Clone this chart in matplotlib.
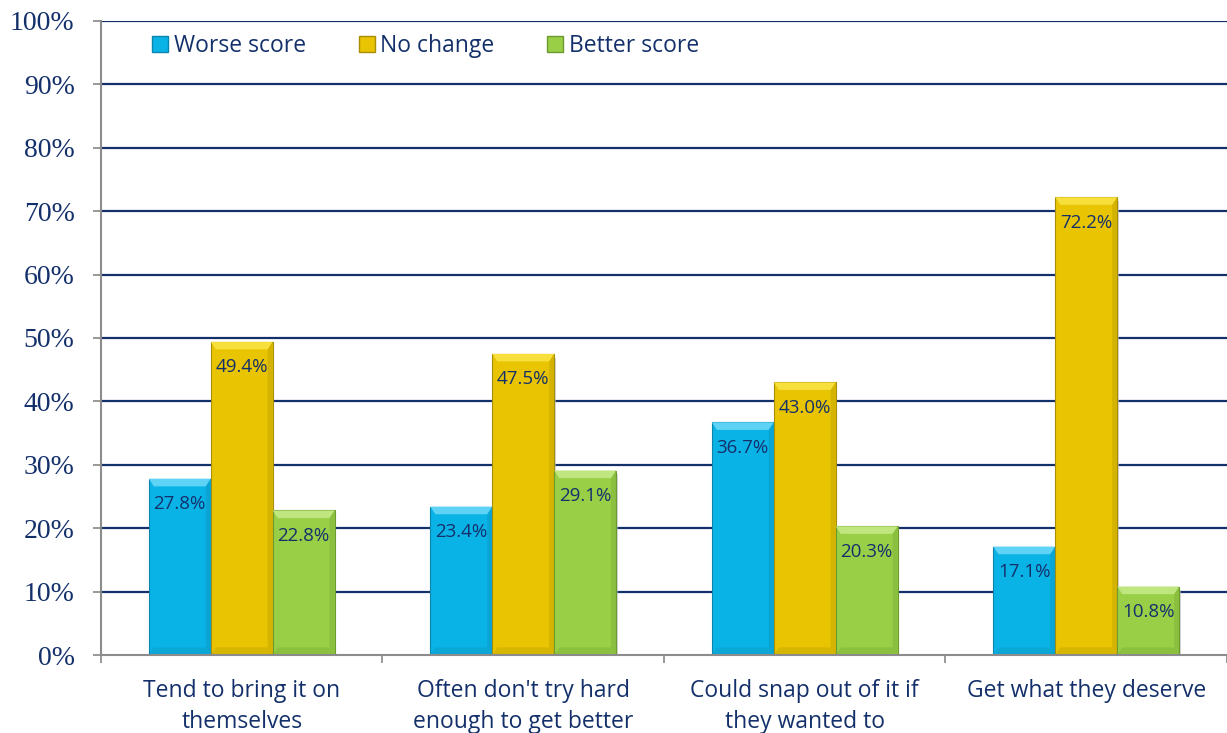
import matplotlib
matplotlib.use("Agg")
import matplotlib.pyplot as plt
import numpy as np
from matplotlib.patches import Rectangle, Polygon
from matplotlib.lines import Line2D

categories = ["Tend to bring it on\nthemselves",
              "Often don't try hard\nenough to get better",
              "Could snap out of it if\nthey wanted to",
              "Get what they deserve"]
series_names = ["Worse score", "No change", "Better score"]
worse = [27.8, 23.4, 36.7, 17.1]
nochange = [49.4, 47.5, 43.0, 72.2]
better = [22.8, 29.1, 20.3, 10.8]
yticks = [0, 10, 20, 30, 40, 50, 60, 70, 80, 90, 100]

colors = ["#0AB3E6", "#E8C402", "#98CF47"]
dark = ["#0A86AE", "#A88E05", "#6C9A2E"]
light = ["#5FD3F5", "#F7DF3C", "#C0E67F"]
navy = "#14306B"

fig = plt.figure(figsize=(12.27, 7.33), dpi=100)
ax = fig.add_axes([0.0823, 0.1064, 0.9177, 0.865])
ax.set_xlim(0, 4)
ax.set_ylim(0, 100)

ax.set_yticks(yticks)
ax.set_yticklabels([f"{v}%" for v in yticks], fontfamily="Liberation Serif",
                   fontsize=20, color=navy)
for v in yticks[1:]:
    ax.axhline(v, color=navy, lw=1.6, zorder=1)

bw = 0.22
x = np.arange(4) + 0.5
data = [worse, nochange, better]
for i, (vals, c) in enumerate(zip(data, colors)):
    xs = x + (i - 1) * bw
    bars = ax.bar(xs, vals, width=bw, color=c, edgecolor=dark[i], linewidth=0.8, zorder=3)
    for b, v in zip(bars, vals):
        x0 = b.get_x(); w = b.get_width(); h = b.get_height()
        bev_x = 0.018; bev_y = 1.2
        ax.add_patch(Polygon([[x0, h], [x0 + w, h], [x0 + w - bev_x, h - bev_y], [x0 + bev_x, h - bev_y]],
                             closed=True, facecolor=light[i], edgecolor="none", zorder=4))
        ax.add_patch(Polygon([[x0, 0], [x0 + w, 0], [x0 + w - bev_x, bev_y], [x0 + bev_x, bev_y]],
                             closed=True, facecolor=dark[i], edgecolor="none", alpha=0.25, zorder=4))
        ax.add_patch(Polygon([[x0 + w, 0], [x0 + w, h], [x0 + w - bev_x, h - bev_y], [x0 + w - bev_x, bev_y]],
                             closed=True, facecolor=dark[i], edgecolor="none", alpha=0.3, zorder=4))
        ax.add_patch(Rectangle((x0 + w, 0), 0.006, h - 0.6, facecolor="#BBBBBB", edgecolor="none",
                               alpha=0.6, zorder=2))
        ax.text(b.get_x() + w / 2, h - 4.0, f"{v:.1f}%", ha="center", va="center",
                fontsize=13.5, color=navy, fontfamily="Open Sans", zorder=5)

ax.set_xticks([0, 1, 2, 3, 4])
ax.set_xticklabels([])
ax.set_xticks(x, minor=True)
ax.set_xticklabels(categories, minor=True, fontfamily="Open Sans", fontsize=16.5,
                   color=navy, linespacing=1.4)
ax.tick_params(axis="x", which="minor", length=0, pad=17)
ax.tick_params(axis="x", which="major", length=6, color="#888888", width=1.2)
ax.tick_params(axis="y", length=6, color="#888888", width=1.2, pad=13)

for s in ["top", "right"]:
    ax.spines[s].set_visible(False)
for s in ["left", "bottom"]:
    ax.spines[s].set_color("#8C8C8C")
    ax.spines[s].set_linewidth(1.5)
    ax.spines[s].set_zorder(6)

handles = [Line2D([0], [0], marker="s", ls="none", markersize=12, markerfacecolor=c,
                  markeredgecolor=d, markeredgewidth=1.0) for c, d in zip(colors, dark)]
leg = ax.legend(handles, series_names, loc="center left", bbox_to_anchor=(0.024, 0.96),
                ncol=3, frameon=False, handletextpad=0.1, columnspacing=2.15,
                prop={"family": "Open Sans", "size": 16.5}, handlelength=1.0)
for t in leg.get_texts():
    t.set_color(navy)

fig.savefig("out.png", dpi=100)
